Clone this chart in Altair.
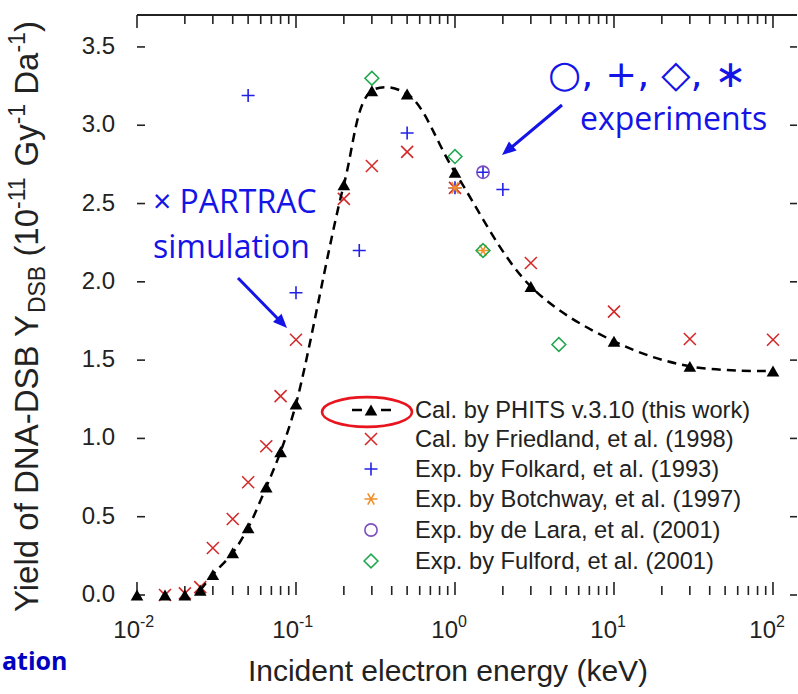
import altair as alt
import pandas as pd

# ---------------- data ----------------
phits_energy = [0.01, 0.015, 0.02, 0.025, 0.03, 0.04, 0.05, 0.065, 0.08, 0.1,
                0.2, 0.3, 0.5, 1.0, 3.0, 10, 30, 100]
phits_yield = [0.0, 0.0, 0.0, 0.03, 0.13, 0.27, 0.43, 0.69, 0.915, 1.22,
               2.62, 3.22, 3.20, 2.70, 1.97, 1.62, 1.46, 1.43]

friedland_energy = [0.015, 0.02, 0.025, 0.03, 0.04, 0.05, 0.065, 0.08, 0.1,
                    0.2, 0.3, 0.5, 1.0, 3.0, 10, 30, 100]
friedland_yield = [0.0, 0.01, 0.05, 0.30, 0.485, 0.72, 0.95, 1.27, 1.63,
                   2.53, 2.74, 2.83, 2.60, 2.12, 1.81, 1.635, 1.63]

folkard_energy = [0.05, 0.1, 0.25, 0.5, 1.0, 1.5, 2.0]
folkard_yield = [3.19, 1.93, 2.20, 2.95, 2.60, 2.70, 2.59]

botchway_energy = [1.0, 1.5]
botchway_yield = [2.60, 2.20]

delara_energy = [1.5]
delara_yield = [2.70]

fulford_energy = [0.3, 1.0, 1.5, 4.5]
fulford_yield = [3.30, 2.80, 2.20, 1.60]

legend_labels = ["Cal. by PHITS v.3.10 (this work)",
                 "Cal. by Friedland, et al. (1998)",
                 "Exp. by Folkard, et al. (1993)",
                 "Exp. by Botchway, et al. (1997)",
                 "Exp. by de Lara, et al. (2001)",
                 "Exp. by Fulford, et al. (2001)"]

x_major = [0.01, 0.1, 1, 10, 100]
x_major_exp = ["-2", "-1", "0", "1", "2"]
x_minor = [k * d for d in (0.01, 0.1, 1, 10) for k in range(2, 10)]
y_ticks = [0.0, 0.5, 1.0, 1.5, 2.0, 2.5, 3.0, 3.5]
y_tick_labels = ["0.0", "0.5", "1.0", "1.5", "2.0", "2.5", "3.0", "3.5"]

# ---------------- layout ----------------
W, H = 660, 580
PL, PT = 137, 15
FONT = "Liberation Sans"
ANN = "Open Sans"
RED = "#d42a2a"
BLUE = "#2222e6"
ORANGE = "#f0902a"
PURPLE = "#7d4fc0"
GREEN = "#22a850"
ABLUE = "#1414e6"
AXC = "#222222"

xs = alt.Scale(type="log", domain=[0.01, 141.6], nice=False)
ys = alt.Scale(domain=[0, 3.704], nice=False, zero=False)

dummy = pd.DataFrame({"k": [0]})

PLUS = "M-1,0L1,0M0,-1L0,1"
CROSS = "M-1,-1L1,1M-1,1L1,-1"
STAR = "M-1,0L1,0M-0.5,-0.87L0.5,0.87M-0.5,0.87L0.5,-0.87"
ELLIPSE = "M-1,0A1,0.33 0 1,0 1,0A1,0.33 0 1,0 -1,0Z"
HEAD = "M0,0L-0.55,1.3L0.55,1.3Z"


def df(e, y):
    return pd.DataFrame({"e": e, "y": y})


def pts(data, shape, color, size, filled=False, sw=1.6):
    return alt.Chart(data).mark_point(shape=shape, filled=filled, size=size,
                                      strokeWidth=sw, color=color, opacity=1).encode(
        x=alt.X("e:Q", scale=xs, axis=None), y=alt.Y("y:Q", scale=ys, axis=None))


def txt(text, ax, ay, size, color=AXC, font=FONT, align="left", weight="normal",
        angle=0, baseline="alphabetic"):
    kw = dict(text=text, fontSize=size, color=color, font=font, align=align,
              fontWeight=weight, baseline=baseline)
    if angle:
        kw["angle"] = angle
    return alt.Chart(dummy).mark_text(**kw).encode(
        x=alt.value(ax - PL), y=alt.value(ay - PT))


def seg(ax1, ay1, ax2, ay2, color, sw, dash=None):
    kw = dict(color=color, strokeWidth=sw)
    if dash:
        kw["strokeDash"] = dash
    return alt.Chart(dummy).mark_rule(**kw).encode(
        x=alt.value(ax1 - PL), y=alt.value(ay1 - PT),
        x2=alt.value(ax2 - PL), y2=alt.value(ay2 - PT))


def sym(shape, ax, ay, color, size, filled=False, sw=1.6, angle=0):
    kw = dict(shape=shape, filled=filled, size=size, strokeWidth=sw, color=color, opacity=1)
    if angle:
        kw["angle"] = angle
    return alt.Chart(dummy).mark_point(**kw).encode(
        x=alt.value(ax - PL), y=alt.value(ay - PT))


layers = []

# base layer carrying axis lines (left + bottom)
base = alt.Chart(df(friedland_energy, friedland_yield)).mark_point(
    shape=CROSS, size=144, strokeWidth=1.6, color=RED, opacity=1).encode(
    x=alt.X("e:Q", scale=xs, axis=alt.Axis(orient="bottom", labels=False, ticks=False,
                                              domain=True, domainColor=AXC, domainWidth=2,
                                              grid=False, title=None)),
    y=alt.Y("y:Q", scale=ys, axis=alt.Axis(orient="left", labels=False, ticks=False,
                                              domain=True, domainColor=AXC, domainWidth=2,
                                              grid=False, title=None)))
layers.append(base)

# top frame line
layers.append(alt.Chart(dummy).mark_rule(color=AXC, strokeWidth=2).encode(
    x=alt.value(0), x2=alt.value(W), y=alt.value(0)))

# x ticks (inward), bottom and top
xmaj = pd.DataFrame({"v": x_major, "ex": x_major_exp})
xmin = pd.DataFrame({"v": x_minor})
for d, ln in ((xmaj, 13), (xmin, 9)):
    layers.append(alt.Chart(d).mark_rule(color=AXC, strokeWidth=1.6).encode(
        x=alt.X("v:Q", scale=xs, axis=None), y=alt.value(H), y2=alt.value(H - ln)))
    layers.append(alt.Chart(d).mark_rule(color=AXC, strokeWidth=1.6).encode(
        x=alt.X("v:Q", scale=xs, axis=None), y=alt.value(0), y2=alt.value(ln)))

# y ticks (inward), left and right, and y tick labels
ytk = pd.DataFrame({"v": y_ticks, "lab": y_tick_labels})
layers.append(alt.Chart(ytk).mark_rule(color=AXC, strokeWidth=1.6).encode(
    y=alt.Y("v:Q", scale=ys, axis=None), x=alt.value(0), x2=alt.value(8)))
layers.append(alt.Chart(ytk).mark_rule(color=AXC, strokeWidth=1.6).encode(
    y=alt.Y("v:Q", scale=ys, axis=None), x=alt.value(W), x2=alt.value(W - 7)))
layers.append(alt.Chart(ytk).mark_text(align="right", baseline="middle", fontSize=24,
                                       font=FONT, color=AXC).encode(
    y=alt.Y("v:Q", scale=ys, axis=None), x=alt.value(-22), text="lab:N"))

# x tick labels 10^n
layers.append(alt.Chart(xmaj).mark_text(text="10", align="right", dx=3, fontSize=24,
                                        font=FONT, color=AXC, baseline="alphabetic").encode(
    x=alt.X("v:Q", scale=xs, axis=None), y=alt.value(638 - PT)))
layers.append(alt.Chart(xmaj).mark_text(align="left", dx=3, fontSize=16,
                                        font=FONT, color=AXC, baseline="alphabetic").encode(
    x=alt.X("v:Q", scale=xs, axis=None), y=alt.value(627 - PT), text="ex:N"))

# data series
layers.append(pts(df(folkard_energy, folkard_yield), PLUS, BLUE, 169))
layers.append(pts(df(botchway_energy, botchway_yield), STAR, ORANGE, 169))
layers.append(pts(df(delara_energy, delara_yield), "circle", PURPLE, 150))
layers.append(pts(df(fulford_energy, fulford_yield), "diamond", GREEN, 190))

phits = df(phits_energy, phits_yield)
layers.append(alt.Chart(phits).transform_filter("datum.e >= 0.025").mark_line(
    color="black", strokeWidth=2.5, strokeDash=[9, 6], interpolate="catmull-rom").encode(
    x=alt.X("e:Q", scale=xs, axis=None), y=alt.Y("y:Q", scale=ys, axis=None)))
layers.append(pts(phits, "triangle-up", "black", 160, filled=True))

# legend
lx_sym, lx_txt = 371, 415
rows_y = [410, 439, 469, 499, 530, 561]
layers.append(seg(352, rows_y[0], 362, rows_y[0], "black", 2.5))
layers.append(seg(381, rows_y[0], 391, rows_y[0], "black", 2.5))
layers.append(sym("triangle-up", lx_sym, rows_y[0], "black", 160, filled=True))
layers.append(sym(ELLIPSE, 367, 412, "#e8141e", 8100, sw=2.6))
layers.append(sym(CROSS, lx_sym, rows_y[1], RED, 144))
layers.append(sym(PLUS, lx_sym, rows_y[2], BLUE, 169))
layers.append(sym(STAR, lx_sym, rows_y[3], ORANGE, 169))
layers.append(sym("circle", lx_sym, rows_y[4], PURPLE, 150))
layers.append(sym("diamond", lx_sym, rows_y[5], GREEN, 190))
for lab, ry in zip(legend_labels, rows_y):
    layers.append(txt(lab, lx_txt, ry + 8, 23.7))

# x axis title
layers.append(txt("Incident electron energy (keV)", 448, 681, 30, align="center"))

# y axis title built from pieces (sub/superscripts)
AW = {'Y': 667, 'i': 222, 'e': 556, 'l': 222, 'd': 556, ' ': 278, 'o': 556, 'f': 278,
      'D': 722, 'N': 722, 'A': 667, '-': 333, 'S': 667, 'B': 667, '(': 333, ')': 333,
      '1': 556, '0': 556, 'G': 778, 'y': 500, 'a': 556}
F, f = 33, 23
pieces = [("Yield of DNA-DSB Y", "n"), ("DSB", "sub"), (" (10", "n"), ("-11", "sup"),
          (" Gy", "n"), ("-1", "sup"), (" Da", "n"), ("-1", "sup"), (")", "n")]
ypos = 612.0
bx = 38
for s, kind in pieces:
    fs = F if kind == "n" else f
    lead = 0.0
    t = s
    if s.startswith(" "):
        lead = AW[' '] * fs / 1000.0
        t = s[1:]
    ypos -= lead
    xoff = {"n": 0, "sub": 7, "sup": -13}[kind]
    layers.append(txt(t, bx + xoff, ypos, fs, align="left", angle=270))
    ypos -= sum(AW[c] for c in t) * fs / 1000.0

# annotations
layers.append(txt("\u00d7 PARTRAC", 153, 213, 32, color=ABLUE, font=ANN))
layers.append(txt("simulation", 153, 258, 32, color=ABLUE, font=ANN))
layers.append(seg(238, 278, 283, 324, ABLUE, 3))
layers.append(sym(HEAD, 287, 328, ABLUE, 466, filled=True, sw=1, angle=136))

layers.append(txt("\u25cb, +, \u25c7, \u2217", 548, 87, 38, color=ABLUE, font="DejaVu Sans"))
layers.append(txt("experiments", 580, 130, 32, color=ABLUE, font=ANN))
layers.append(seg(562, 105, 506, 152, ABLUE, 3))
layers.append(sym(HEAD, 502, 155, ABLUE, 466, filled=True, sw=1, angle=230))

layers.append(txt("ation", 2, 670, 25, color="#0000c0", font=ANN, align="left", weight="bold"))

chart = alt.layer(*layers).properties(
    width=W, height=H,
    padding={"left": PL, "top": PT, "right": 1, "bottom": 99},
    autosize=alt.AutoSizeParams(type="none"),
    background="white",
).configure_view(stroke=None)

chart.save("out.html", embed_options={"renderer": "svg", "actions": False})
